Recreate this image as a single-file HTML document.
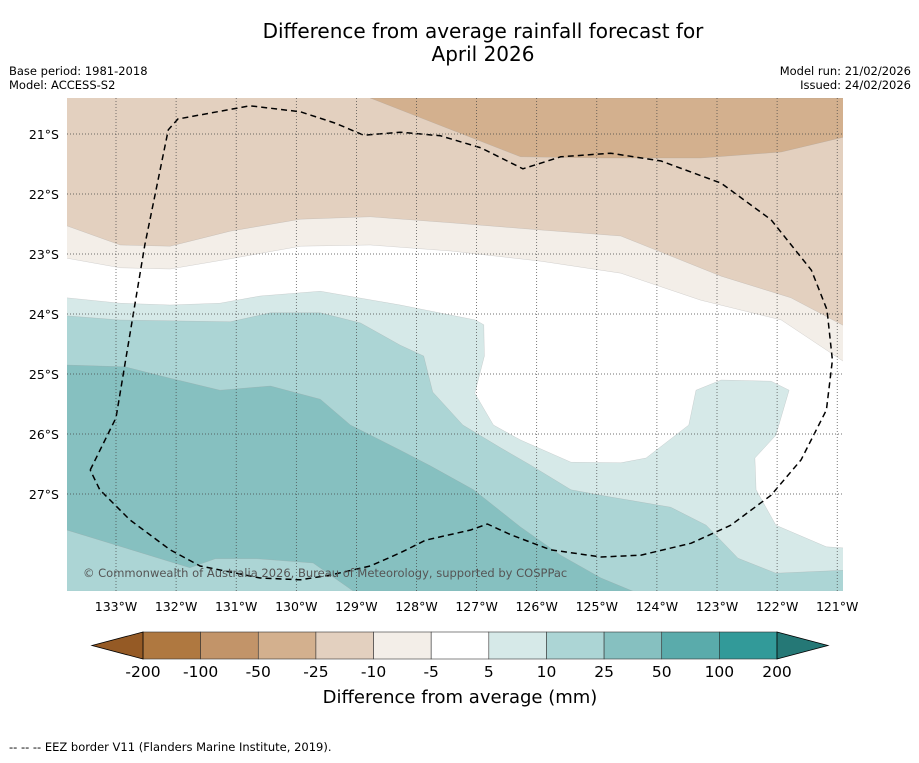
<!DOCTYPE html>
<html><head><meta charset="utf-8"><style>
body{margin:0;background:#fff;}
svg text{font-family:"DejaVu Sans","Liberation Sans",sans-serif;}
</style></head><body>
<svg id="c" width="919" height="758" viewBox="0 0 919 758" xmlns="http://www.w3.org/2000/svg">
<text x="483" y="38" text-anchor="middle" font-size="20" fill="#000">Difference from average rainfall forecast for</text>
<text x="483" y="61" text-anchor="middle" font-size="20" fill="#000">April 2026</text>
<text x="9" y="75" font-size="11.5">Base period: 1981-2018</text>
<text x="9" y="89" font-size="11.5">Model: ACCESS-S2</text>
<text x="911" y="75" font-size="11.5" text-anchor="end">Model run: 21/02/2026</text>
<text x="911" y="89" font-size="11.5" text-anchor="end">Issued: 24/02/2026</text>
<defs><clipPath id="mapclip"><rect x="67" y="98" width="776" height="493"/></clipPath></defs>
<g id="map" clip-path="url(#mapclip)"></g>
<g id="grid"></g>
<g id="ticks"></g>
<g id="cbar"></g>
<text x="460" y="703" text-anchor="middle" font-size="18">Difference from average (mm)</text>
<text x="9" y="751" font-size="11.5">--  --  -- EEZ border V11 (Flanders Marine Institute, 2019).</text>
</svg>
<script>
const lonTicks=[133,132,131,130,129,128,127,126,125,124,123,122,121];
const latTicks=[21,22,23,24,25,26,27];
const levels=["-200","-100","-50","-25","-10","-5","5","10","25","50","100","200"];
const levelColors=["#af7840","#c29469","#d3b08e","#e3d0bf","#f3eee8","#ffffff","#d6e9e8","#acd5d5","#86c0c0","#5aabab","#329a99"];
const extendColors=["#955a25","#257876"];
const bandTop=[[128.77,20.4],[127.93,20.73],[126.27,21.38],[124.93,21.4],[123.27,21.4],[121.93,21.3],[120.88,21.05],[120.88,20.4]];
const bandM10=[[133.82,22.53],[132.93,22.85],[132.1,22.87],[131.1,22.62],[129.93,22.42],[128.77,22.38],[127.43,22.48],[125.93,22.6],[124.6,22.7],[122.93,23.37],[121.77,23.73],[120.88,24.2]];
const bandM5=[[133.82,23.07],[132.93,23.23],[132.1,23.25],[131.1,23.08],[129.93,22.87],[128.77,22.85],[127.43,22.95],[125.93,23.12],[124.6,23.32],[123.27,23.77],[121.93,24.1],[120.88,24.8]];
const band5=[[133.82,23.73],[132.93,23.82],[132.1,23.85],[131.27,23.82],[130.6,23.7],[129.6,23.62],[128.27,23.85],[127.02,24.1],[126.88,24.18],[126.87,24.7],[127.03,25.32],[126.72,25.85],[126.27,26.1],[125.43,26.47],[124.6,26.48],[124.18,26.4],[123.47,25.85],[123.35,25.27],[122.93,25.1],[122.1,25.12],[121.8,25.27],[122.02,26.02],[122.37,26.4],[122.35,26.93],[122.02,27.52],[121.18,27.88],[120.88,27.9]];
const band10=[[133.82,24.03],[132.93,24.1],[131.1,24.13],[130.43,23.98],[129.6,23.98],[128.93,24.15],[128.27,24.52],[127.88,24.7],[127.73,25.3],[127.23,25.85],[126.6,26.23],[126.1,26.52],[125.43,26.93],[124.77,27.05],[123.77,27.22],[123.18,27.52],[122.65,28.07],[122.02,28.32],[120.88,28.27]];
const band25=[[133.82,24.85],[132.85,24.88],[132.1,25.07],[131.27,25.27],[130.43,25.2],[129.6,25.42],[129.1,25.85],[128.27,26.27],[127.77,26.53],[127.05,26.93],[126.27,27.55],[125.6,28.02],[124.93,28.4],[124.4,28.62]];
const patch10=[[133.82,27.6],[131.77,28.23],[131.35,28.08],[130.65,28.08],[129.72,28.15],[129.05,28.62],[133.82,28.62]];
const eez=[[133.43,26.6],[133,25.73],[132.52,22.85],[132.13,20.93],[131.97,20.75],[130.77,20.53],[129.93,20.63],[129.35,20.82],[128.88,21.02],[128.27,20.97],[127.6,21.03],[126.93,21.23],[126.23,21.58],[125.6,21.38],[124.77,21.32],[123.93,21.45],[122.93,21.82],[122.1,22.43],[121.43,23.27],[121.17,23.93],[121.08,24.77],[121.18,25.6],[121.6,26.43],[122.1,27.02],[122.77,27.52],[123.43,27.82],[124.27,28.02],[124.93,28.05],[125.77,27.93],[126.43,27.68],[126.82,27.5],[127.1,27.6],[127.85,27.77],[128.27,27.98],[128.77,28.2],[129.43,28.35],[129.93,28.43],[130.6,28.4],[131.6,28.2],[132.1,27.93],[132.77,27.43],[133.27,26.93],[133.43,26.6]];
const NS="http://www.w3.org/2000/svg";
function X(lon){return 116+(133-lon)*60.1;}
function Y(lat){return 134+(lat-21)*60;}
function mk(tag,attrs,parent){const e=document.createElementNS(NS,tag);for(const k in attrs)e.setAttribute(k,attrs[k]);parent.appendChild(e);return e;}
function pts(a){return a.map(p=>X(p[0]).toFixed(1)+","+Y(p[1]).toFixed(1)).join(" ");}
const map=document.getElementById('map');
const bg=mk('rect',{x:67,y:98,width:776,height:493,fill:levelColors[3]},map);


function band(arr,color,name,closeBottom){
  const all=closeBottom?arr.concat([[120.88,28.62],[133.82,28.62]]):arr;
  const p=mk('polygon',{points:pts(all),fill:color,stroke:"#999",'stroke-width':0.4,'stroke-opacity':0.5},map);
  
  
}
band(bandTop,levelColors[2],'band-minus50-minus25',false);
band(bandM10,levelColors[4],'band-minus10-minus5',true);
band(bandM5,levelColors[5],'band-minus5-5',true);
band(band5,levelColors[6],'band-5-10',true);
band(band10,levelColors[7],'band-10-25',true);
band(band25.concat([[133.82,28.62]]),levelColors[8],'band-25-50',false);
band(patch10,levelColors[7],'band-10-25-patch',false);
const ez=mk('polyline',{points:pts(eez),fill:"none",stroke:"#000",'stroke-width':1.5,'stroke-dasharray':"6,4"},map);


const cp=mk('text',{x:83,y:577,'font-size':11.5,fill:"#555"},map);
cp.textContent="© Commonwealth of Australia 2026, Bureau of Meteorology, supported by COSPPac";


const grid=document.getElementById('grid'),ticks=document.getElementById('ticks');
lonTicks.forEach(l=>{
  const x=X(l);
  if(x<843){const g=mk('line',{x1:x,x2:x,y1:98,y2:591,stroke:"#444",'stroke-width':0.7,'stroke-dasharray':"1,2"},grid);
  
  }
  const t=mk('text',{x:x,y:611,'text-anchor':'middle','font-size':12.5},ticks);
  t.textContent=l+"°W";
  
  
});
latTicks.forEach(l=>{
  const y=Y(l);
  const g=mk('line',{x1:67,x2:843,y1:y,y2:y,stroke:"#444",'stroke-width':0.7,'stroke-dasharray':"1,2"},grid);
  
  
  const t=mk('text',{x:59,y:y+5,'text-anchor':'end','font-size':12.5},ticks);
  t.textContent=l+"°S";
  
  
});
const cb=document.getElementById('cbar');
const cx0=143,cx1=777,cy=632,ch=27,n=levelColors.length,sw=(cx1-cx0)/n;
levelColors.forEach((c,i)=>{
  const r=mk('rect',{x:cx0+i*sw,y:cy,width:sw,height:ch,fill:c,stroke:"#333",'stroke-width':0.6},cb);
  
  
});
const tl=mk('polygon',{points:`${cx0},${cy} 92,${cy+ch/2} ${cx0},${cy+ch}`,fill:extendColors[0],stroke:"#000",'stroke-width':0.8},cb);


const tr=mk('polygon',{points:`${cx1},${cy} 828,${cy+ch/2} ${cx1},${cy+ch}`,fill:extendColors[1],stroke:"#000",'stroke-width':0.8},cb);


levels.forEach((lv,i)=>{
  const t=mk('text',{x:cx0+i*sw,y:677,'text-anchor':'middle','font-size':15.5},cb);
  t.textContent=lv;
  
  
});
</script>
</body></html>
